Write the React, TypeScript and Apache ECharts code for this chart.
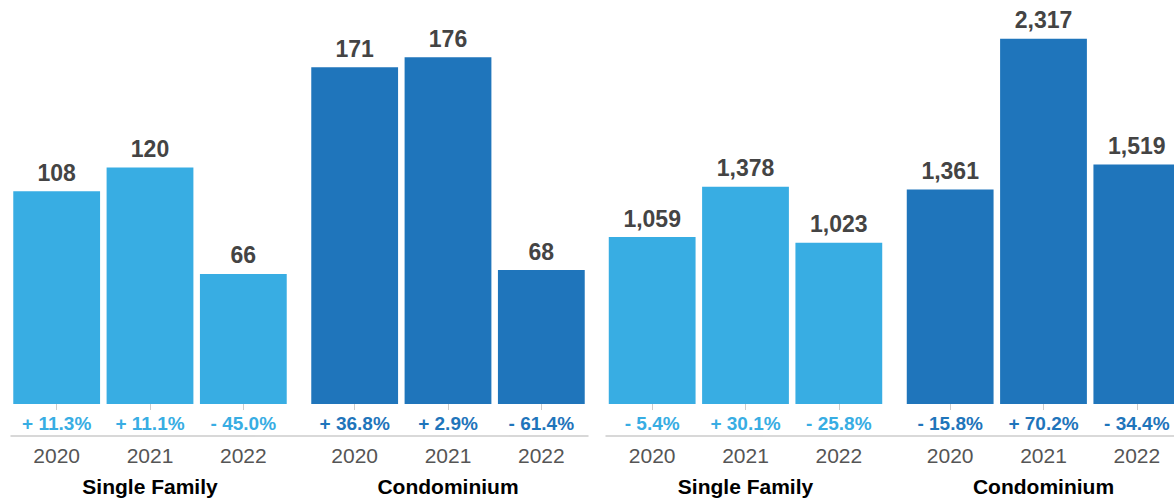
import React, { useEffect, useRef } from "react";
import * as echarts from "echarts";

const years = ["2020", "2021", "2022"];
const groupNames = ["Single Family", "Condominium", "Single Family", "Condominium"];

const soldA_single = [108, 120, 66];
const soldA_condo = [171, 176, 68];
const soldB_single = [1059, 1378, 1023];
const soldB_condo = [1361, 2317, 1519];

const pctA_single = ["+ 11.3%", "+ 11.1%", "- 45.0%"];
const pctA_condo = ["+ 36.8%", "+ 2.9%", "- 61.4%"];
const pctB_single = ["- 5.4%", "+ 30.1%", "- 25.8%"];
const pctB_condo = ["- 15.8%", "+ 70.2%", "- 34.4%"];

const panelMaxA = 200;
const panelMaxB = 2500;

const LIGHT = "#38ADE3";
const DARK = "#1F75BB";
const FONT = "'Liberation Sans', Arial, Helvetica, sans-serif";

export default function App() {
  const ref = useRef<HTMLDivElement>(null);

  useEffect(() => {
    if (!ref.current) return;
    const chart = echarts.init(ref.current, undefined, { renderer: "svg" });

    const groups = [
      { values: soldA_single, pct: pctA_single, color: LIGHT, max: panelMaxA, left: 10 },
      { values: soldA_condo, pct: pctA_condo, color: DARK, max: panelMaxA, left: 308 },
      { values: soldB_single, pct: pctB_single, color: LIGHT, max: panelMaxB, left: 605.5 },
      { values: soldB_condo, pct: pctB_condo, color: DARK, max: panelMaxB, left: 903.5 },
    ];

    const grids: any[] = [];
    const xAxes: any[] = [];
    const yAxes: any[] = [];
    const series: any[] = [];

    groups.forEach((g, i) => {
      grids.push({ left: g.left, width: 280, top: 10, bottom: 98 });
      // year axis
      xAxes.push({
        type: "category",
        gridIndex: i,
        data: years,
        position: "bottom",
        offset: 32,
        axisLine: { show: false },
        axisTick: { show: true, alignWithLabel: true, length: 6, lineStyle: { color: "#cccccc" } },
        axisLabel: { interval: 0, color: "#555555", fontSize: 21, fontFamily: FONT, margin: 9 },
        name: groupNames[i],
        nameLocation: "middle",
        nameGap: 40,
        nameTextStyle: { color: "#000000", fontSize: 21, fontWeight: "bold", fontFamily: FONT },
      });
      // percent axis
      xAxes.push({
        type: "category",
        gridIndex: i,
        data: g.pct.map((p) => ({ value: p, textStyle: { color: g.color } })),
        position: "bottom",
        offset: 0,
        axisLine: { show: false },
        axisTick: { show: false },
        axisLabel: { interval: 0, hideOverlap: false, fontSize: 19, fontWeight: "bold", fontFamily: FONT, margin: 10 },
      });
      yAxes.push({ type: "value", gridIndex: i, min: 0, max: g.max, show: false });
      series.push({
        type: "bar",
        xAxisIndex: i * 2,
        yAxisIndex: i,
        data: g.values,
        barWidth: "93%",
        itemStyle: { color: g.color },
        label: {
          show: true,
          position: "top",
          distance: 7,
          color: "#444444",
          fontSize: 23,
          fontWeight: "bold",
          fontFamily: FONT,
          formatter: (p: any) => Number(p.value).toLocaleString("en-US"),
        },
      });
    });

    // panel-wide axis lines
    const panelLines = [
      { left: 11, width: 577 },
      { left: 606, width: 580 },
    ];
    panelLines.forEach((p) => {
      const gi = grids.length;
      grids.push({ left: p.left, width: p.width, top: 10, bottom: 98 });
      xAxes.push({
        type: "category",
        gridIndex: gi,
        data: [""],
        position: "bottom",
        offset: 32,
        axisLine: { show: true, onZero: false, lineStyle: { color: "#cccccc", width: 1.5 } },
        axisTick: { show: false },
        axisLabel: { show: false },
      });
      yAxes.push({ type: "value", gridIndex: gi, show: false });
    });

    chart.setOption({
      animation: false,
      grid: grids,
      xAxis: xAxes,
      yAxis: yAxes,
      series,
    });

    return () => chart.dispose();
  }, []);

  return (
    <div
      style={{
        position: "fixed",
        left: 0,
        top: 0,
        width: 1174,
        height: 502,
        overflow: "hidden",
        background: "#fff",
      }}
    >
      <div ref={ref} style={{ width: 1200, height: 502 }} />
    </div>
  );
}
